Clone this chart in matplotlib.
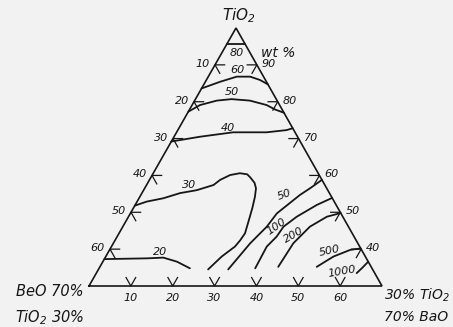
"""
Ternary diagram BeO-BaO-TiO2 (TiO2 >= 30 wt%), contour lines of a property.
Output: out.png
"""
import numpy as np
import matplotlib
matplotlib.use('Agg')
import matplotlib.pyplot as plt

plt.rcParams.update({
    'font.family':      'DejaVu Sans',
    'font.style':       'italic',
    'mathtext.default': 'it',
})

INK = '#161616'
BG  = '#f2f2f2'

# ── Data: compositions in wt% as (BaO, TiO2); BeO = 100 - BaO - TiO2 ─────────
LEFT_TICKS   = [10, 20, 30, 40, 50, 60]     # BeO wt% on left edge
RIGHT_TICKS  = [90, 80, 70, 60, 50, 40]     # TiO2 wt% on right edge
BOTTOM_TICKS = [10, 20, 30, 40, 50, 60]     # BaO wt% on base

ISO_80 = [(0.0, 95.7), (4.3, 95.7)]
ISO_60 = [(0.0, 83.6), (3.5, 85.4), (6.8, 86.8), (10.0, 86.8), (12.8, 85.9),
          (15.3, 84.7)]
ISO_50 = [(0.0, 77.3), (1.9, 79.1), (5.3, 80.3), (8.6, 80.7), (13.2, 80.3),
          (17.8, 79.1), (20.4, 77.9), (23.0, 77.0)]
ISO_40 = [(0.0, 69.2), (6.2, 70.5), (13.5, 71.7), (21.5, 71.7), (26.0, 72.3),
          (27.2, 72.8)]
ISO_30 = [(0.0, 51.8), (2.3, 52.9), (5.8, 53.8), (9.1, 55.2), (12.7, 56.0),
          (16.0, 57.4), (16.9, 58.8), (18.6, 60.1), (20.7, 60.6), (22.6, 60.3),
          (23.7, 59.5), (25.5, 58.0), (26.6, 56.5), (27.5, 54.2), (28.4, 51.2),
          (29.0, 48.8), (30.1, 44.3), (29.9, 42.4), (29.5, 40.7), (27.7, 38.0),
          (26.2, 34.5)]
ISO_20 = [(0.0, 37.3), (10.0, 37.5), (13.9, 37.7), (17.7, 36.6), (21.7, 34.8)]
ISO_50B = [(31.0, 34.5), (32.7, 41.6), (34.4, 46.1), (35.0, 49.7),
           (38.0, 54.7), (39.5, 56.5), (41.2, 58.8)]
ISO_100 = [(37.3, 34.8), (37.1, 40.7), (38.1, 43.4), (38.4, 46.1),
           (40.2, 48.8), (43.4, 52.0), (46.1, 53.9)]
ISO_200 = [(42.6, 35.2), (43.0, 41.6), (44.7, 46.1), (47.4, 48.8),
           (50.2, 49.8)]
ISO_500 = [(51.8, 35.2), (54.4, 38.0), (57.5, 39.8), (59.8, 40.2)]
ISO_1000 = [(62.2, 33.5), (62.8, 34.9), (63.4, 36.6)]

ISOLINES = [ISO_80, ISO_60, ISO_50, ISO_40, ISO_30, ISO_20,
            ISO_50B, ISO_100, ISO_200, ISO_500, ISO_1000]

# contour label: text, BaO, TiO2, rotation
ISO_LABELS = [
    ('80',   3.5, 93.3, 0),
    ('60',   6.0, 88.6, 0),
    ('50',   7.8, 82.6, 0),
    ('40',  11.7, 72.9, 0),
    ('30',  10.1, 57.4, 0),
    ('20',  12.3, 39.3, 0),
    ('50',  34.4, 54.7, 20),
    ('100', 36.7, 46.3, 35),
    ('200', 41.9, 43.8, 30),
    ('500', 52.8, 39.5, 12),
    ('1000', 58.5, 33.8, 10),
]

# ── Triangle placement (pixels) ──────────────────────────────────────────────
BL  = np.array([89.0, 286.0])
BR  = np.array([382.0, 286.0])
TOP = np.array([236.0, 28.0])


def to_xy(bao, tio2):
    bao = np.asarray(bao, float)
    tio2 = np.asarray(tio2, float)
    c = (tio2 - 30.0) / 70.0
    a = bao / 70.0
    b = 1.0 - a - c
    x = a * BR[0] + b * BL[0] + c * TOP[0]
    y = a * BR[1] + b * BL[1] + c * TOP[1]
    return x, y


fig = plt.figure(figsize=(4.53, 3.27), dpi=100, facecolor=BG)
ax = fig.add_axes([0, 0, 1, 1])
ax.set_xlim(0, 453)
ax.set_ylim(327, 0)
ax.axis('off')
ax.set_facecolor(BG)

# outline
tri = np.array([BL, BR, TOP, BL])
ax.plot(tri[:, 0], tri[:, 1], color=INK, lw=1.2, solid_joinstyle='miter')

L = 2.3   # tick stroke length, wt%
# left edge: BeO = k, BaO = 0
for k in LEFT_TICKS:
    t0 = 100 - k
    x0, y0 = to_xy(0, t0)
    x1, y1 = to_xy(L, t0)          # constant TiO2
    x2, y2 = to_xy(L, t0 - L)      # constant BeO
    ax.plot([x1, x0, x2], [y1, y0, y2], color=INK, lw=0.9)
    ax.text(x0 - 5, y0 - 1, str(k), ha='right', va='center', fontsize=8,
            color=INK)
# right edge: BeO = 0
for k in RIGHT_TICKS:
    x0, y0 = to_xy(100 - k, k)
    x1, y1 = to_xy(100 - k - L, k)          # constant TiO2
    x2, y2 = to_xy(100 - k, k - L)          # constant BaO
    ax.plot([x1, x0, x2], [y1, y0, y2], color=INK, lw=0.9)
    ax.text(x0 + 5, y0 - 1, str(k), ha='left', va='center', fontsize=8,
            color=INK)
# base: TiO2 = 30
for k in BOTTOM_TICKS:
    x0, y0 = to_xy(k, 30)
    x1, y1 = to_xy(k - L, 30 + L)
    x2, y2 = to_xy(k, 30 + L)
    ax.plot([x1, x0, x2], [y1, y0, y2], color=INK, lw=0.9)
    ax.text(x0, y0 + 12, str(k), ha='center', va='center', fontsize=8,
            color=INK)

# isolines
for iso in ISOLINES:
    arr = np.array(iso)
    x, y = to_xy(arr[:, 0], arr[:, 1])
    ax.plot(x, y, color=INK, lw=1.3, solid_capstyle='round',
            solid_joinstyle='round')

for txt, bao, tio2, rot in ISO_LABELS:
    x, y = to_xy(bao, tio2)
    ax.text(x, y, txt, ha='center', va='center', fontsize=8, rotation=rot,
            color=INK)

# corner / axis titles
ax.text(TOP[0] + 3, 16, 'TiO$_2$', ha='center', va='center', fontsize=11,
        color=INK)
ax.text(278, 53, 'wt %', ha='center', va='center', fontsize=10, color=INK)
ax.text(84, 292, 'BeO 70%', ha='right', va='center', fontsize=10.5, color=INK)
ax.text(84, 318, 'TiO$_2$ 30%', ha='right', va='center', fontsize=10.5,
        color=INK)
ax.text(384, 295, '30% TiO$_2$', ha='left', va='center', fontsize=10,
        color=INK)
ax.text(384, 317, '70% BaO', ha='left', va='center', fontsize=10, color=INK)

fig.savefig('out.png', dpi=100, facecolor=BG)
